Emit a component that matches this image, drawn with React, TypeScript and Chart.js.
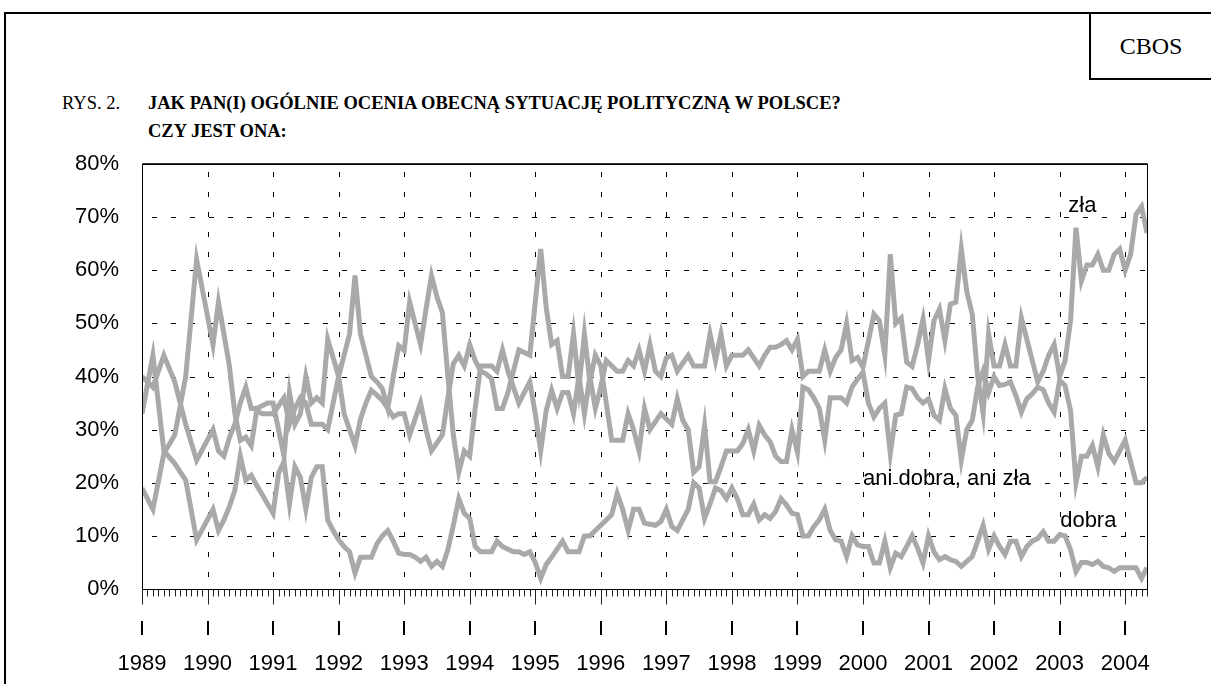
import React, { useEffect, useRef } from "react";
import { Chart, registerables } from "chart.js";

Chart.register(...registerables);

// Survey dates: months since January 1989 (0 = Jan 1989)
const surveyMonths = [
  0, 2, 4, 6, 8, 10,
  13, 14, 15, 16, 17, 18, 19, 20, 21, 22, 23,
  24, 25, 26, 27, 28, 29, 30, 31, 32, 33, 34, 35,
  36, 37, 38, 39, 40, 41, 42, 43, 44, 45, 46, 47,
  48, 49, 50, 51, 52, 53, 54, 55, 56, 57, 58, 59,
  60, 61, 62, 63, 64, 65, 66, 67, 68, 69, 70, 71,
  72, 73, 74, 75, 76, 77, 78, 79, 80, 81, 82, 83,
  84, 85, 86, 87, 88, 89, 90, 91, 92, 93, 94, 95,
  96, 97, 98, 99, 100, 101, 102, 103, 104, 105, 106, 107,
  108, 109, 110, 111, 112, 113, 114, 115, 116, 117, 118, 119,
  120, 121, 122, 123, 124, 125, 126, 127, 128, 129, 130, 131,
  132, 133, 134, 135, 136, 137, 138, 139, 140, 141, 142, 143,
  144, 145, 146, 147, 148, 149, 150, 151, 152, 153, 154, 155,
  156, 157, 158, 159, 160, 161, 162, 163, 164, 165, 166, 167,
  168, 169, 170, 171, 172, 173, 174, 175, 176, 177, 178, 179,
  180, 181, 182, 183, 184,
];

const zla = [
  40, 38, 44, 39, 31, 24.25,
  30, 26, 25, 28.5, 31, 35, 38, 34, 34, 34.5, 35,
  35, 30, 25, 37, 31, 33, 40, 35, 36, 35, 47, 43.5,
  40, 44, 48, 59, 48, 44, 40, 39, 37.7, 34, 40, 45.8,
  44.9, 54, 50, 46, 52.7, 59, 55, 52, 40, 29, 22, 26,
  25, 34, 42, 42, 42, 41, 45, 41, 38, 35, 37, 39,
  33, 26, 33.6, 37.4, 34, 37, 37, 33, 40, 33, 40, 34,
  38, 43, 42, 41, 41, 43, 42, 45, 41, 46, 41, 40,
  43.5, 44, 41, 42.5, 44, 42, 42, 42, 48, 43, 48, 42,
  44, 44, 44, 45, 43.5, 42, 44, 45.5, 45.5, 46, 46.75, 45,
  47, 40, 41, 41, 41, 45, 41, 43.6, 45, 50, 43, 43.6,
  41.75, 46.75, 51.75, 50.5, 44, 63, 50, 51, 42.7, 41.9, 46, 50.8,
  43, 50.5, 52.7, 46.75, 53.6, 54, 64, 56, 51.75, 40, 33, 48,
  42, 42, 46, 42, 42, 51, 47, 43, 39, 41, 44, 46,
  40, 43, 50.5, 68, 58, 61, 61, 63, 60, 60, 63, 64,
  60, 63, 70.5, 72, 67,
];

const aniDobraAniZla = [
  19, 15, 25.5, 29, 40, 62,
  46, 54, 48, 42, 33, 28, 28.6, 27, 33.6, 33, 33,
  33, 34.5, 36, 31, 34, 36, 35, 31, 31, 31, 30, 35,
  40, 33, 30, 27, 32, 35, 37.4, 36.5, 35.5, 34, 32.4, 33,
  33, 29, 32, 35, 30, 26, 27.5, 29, 36, 42.4, 44, 42,
  46, 43, 41, 40.5, 39.6, 34, 34, 37, 41, 45, 44.5, 44,
  54, 64, 53, 46, 46.75, 40, 40, 48, 38, 48, 39, 44,
  42, 35, 28, 28, 28, 33, 30, 26, 34, 30, 31.5, 33,
  32, 31, 35.8, 31.75, 30, 22, 23, 30.8, 20.2, 20.2, 23, 26,
  26, 26, 27.4, 30, 26, 30.8, 29, 27.7, 25, 24, 24, 30,
  25.8, 38, 37.5, 36, 34, 28, 36, 36, 36, 35, 38, 39.5,
  40.8, 35, 32.4, 34, 35, 25.5, 32.7, 33, 38, 37.7, 36, 35,
  35.8, 32.7, 31.75, 37.7, 34, 32.7, 24.25, 30, 31.75, 38, 41, 37,
  40, 38.3, 38.5, 39, 36.4, 33.3, 35.8, 36.75, 38, 37.5, 35, 33.3,
  39.25, 38.3, 33.6, 20, 25, 25, 27, 23, 29, 25.5, 24, 26,
  28, 24, 20, 20, 21,
];

const dobra = [
  33, 44, 26, 23.6, 20.5, 9.25,
  15, 11, 13, 15.5, 18.6, 25, 20.5, 21.4, 19.5, 17.8, 16,
  14.25, 21.75, 24, 16, 23, 21, 15, 21, 23, 23, 13, 11,
  9.25, 8, 7, 3, 6, 6, 6, 8.5, 10, 11, 9, 6.75,
  6.5, 6.5, 6, 5.2, 6, 4.25, 5.2, 4.25, 7.4, 12, 17, 14.25,
  13.3, 8, 7, 7, 7, 9, 8, 7.5, 7, 7, 6.5, 7,
  5, 2, 4.6, 6, 7.5, 9, 7, 7, 7, 10, 10, 11,
  12, 13, 14, 18, 15, 11, 15, 15, 12.4, 12.2, 12, 12.7,
  15, 11.75, 11, 13, 15, 20, 19, 13.3, 16, 19, 18.5, 17,
  19, 17, 14, 14, 16, 13, 14, 13.3, 14.6, 17, 15.8, 14.25,
  14, 10, 10, 11.75, 13, 15, 11, 9.25, 9, 6.1, 10, 8.3,
  8, 8, 4.9, 4.9, 9, 4, 6.75, 6.1, 8, 10, 7.7, 4.9,
  10, 7, 5.5, 6.1, 5.5, 5.2, 4.25, 5.2, 6.1, 9, 12, 7.5,
  10, 8, 6.5, 9, 9, 6.1, 8, 9, 9.5, 10.8, 9, 9,
  10.2, 10, 7.4, 3.3, 5, 5, 4.6, 5.2, 4.25, 4, 3.3, 4,
  4, 4, 4, 2, 4,
];

const yearLabels = [
  "1989", "1990", "1991", "1992", "1993", "1994", "1995", "1996",
  "1997", "1998", "1999", "2000", "2001", "2002", "2003", "2004",
];
const yTickValues = [0, 10, 20, 30, 40, 50, 60, 70, 80];

const seriesLabels = ["zła", "ani dobra, ani zła", "dobra"];
// label anchor (month, percent) for each series, left-aligned
const labelAnchors = [
  { m: 169.6, v: 72.1 },
  { m: 132.0, v: 20.7 },
  { m: 168.1, v: 12.8 },
];

const LINE_COLOR = "#a9a9a9";
const SANS = '"Liberation Sans", Arial, sans-serif';
const SERIF = '"Liberation Serif", "Times New Roman", serif';

export default function App() {
  const canvasRef = useRef<HTMLCanvasElement | null>(null);

  useEffect(() => {
    const canvas = canvasRef.current;
    if (!canvas) return;

    const toPoints = (vals: number[]) =>
      surveyMonths.map((m, i) => ({ x: m, y: vals[i] }));

    const decor = {
      id: "decor",
      beforeDatasetsDraw(chart: any) {
        const { ctx, chartArea: a, scales } = chart;
        const xs = scales.x;
        const ys = scales.y;
        ctx.save();
        ctx.strokeStyle = "#000";
        ctx.lineWidth = 1;
        // horizontal dashed gridlines
        ctx.setLineDash([5, 14]);
        ctx.lineDashOffset = 9;
        yTickValues.forEach((v) => {
          if (v === 0 || v === 80) return;
          const y = Math.round(ys.getPixelForValue(v)) + 0.5;
          ctx.beginPath();
          ctx.moveTo(a.left, y);
          ctx.lineTo(a.right, y);
          ctx.stroke();
        });
        // vertical dashed gridlines at years
        ctx.setLineDash([5, 15]);
        ctx.lineDashOffset = 12;
        yearLabels.forEach((_, i) => {
          if (i === 0) return;
          const x = Math.round(xs.getPixelForValue(i * 12)) + 0.5;
          ctx.beginPath();
          ctx.moveTo(x, a.top);
          ctx.lineTo(x, a.bottom);
          ctx.stroke();
        });
        ctx.restore();
      },
      afterDatasetsDraw(chart: any) {
        const { ctx, chartArea: a, scales } = chart;
        const xs = scales.x;
        const ys = scales.y;
        ctx.save();
        ctx.setLineDash([]);
        ctx.strokeStyle = "#000";
        ctx.lineWidth = 1;
        // plot frame
        const L = Math.round(a.left) + 0.5;
        const R = Math.round(a.right) + 0.5;
        const T = Math.round(a.top) + 0.5;
        const B = Math.round(a.bottom) + 0.5;
        ctx.strokeRect(L, T, R - L, B - T);
        ctx.strokeStyle = "#333";
        ctx.beginPath();
        ctx.moveTo(L, T - 1);
        ctx.lineTo(R, T - 1);
        ctx.stroke();
        // month minor ticks and year major ticks
        ctx.strokeStyle = "#222";
        for (let m = 0; m <= 184; m++) {
          const x = Math.round(xs.getPixelForValue(m)) + 0.5;
          const len = m % 12 === 0 ? 15 : 7;
          ctx.beginPath();
          ctx.moveTo(x, B);
          ctx.lineTo(x, B + len);
          ctx.stroke();
        }
        // y labels
        ctx.fillStyle = "#000";
        ctx.font = `22px ${SANS}`;
        ctx.textAlign = "right";
        ctx.textBaseline = "middle";
        yTickValues.forEach((v) => {
          ctx.fillText(`${v}%`, 119, ys.getPixelForValue(v));
        });
        // year marks and labels
        ctx.textAlign = "center";
        ctx.lineWidth = 2;
        ctx.strokeStyle = "#000";
        yearLabels.forEach((lab, i) => {
          const xp = xs.getPixelForValue(i * 12);
          const x = Math.round(xp);
          ctx.beginPath();
          ctx.moveTo(x, 621);
          ctx.lineTo(x, 635);
          ctx.stroke();
          ctx.fillText(lab, xp, 664);
        });
        // series labels
        ctx.textAlign = "left";
        seriesLabels.forEach((t, i) => {
          const p = labelAnchors[i];
          ctx.fillText(t, xs.getPixelForValue(p.m), ys.getPixelForValue(p.v));
        });
        ctx.restore();
      },
    };

    const mk = (label: string, vals: number[]) => ({
      label,
      data: toPoints(vals),
      borderColor: LINE_COLOR,
      backgroundColor: LINE_COLOR,
      borderWidth: 5,
      pointRadius: 0,
      tension: 0,
      borderJoinStyle: "miter" as const,
      borderCapStyle: "butt" as const,
      fill: false,
    });

    const chart = new Chart(canvas, {
      type: "line",
      data: {
        datasets: [
          mk(seriesLabels[0], zla),
          mk(seriesLabels[1], aniDobraAniZla),
          mk(seriesLabels[2], dobra),
        ],
      },
      options: {
        animation: false,
        responsive: false,
        events: [],
        layout: {
          autoPadding: false,
          padding: { left: 142, top: 164, right: 64, bottom: 95 },
        },
        plugins: {
          legend: { display: false },
          tooltip: { enabled: false },
          title: { display: false },
        },
        scales: {
          x: { type: "linear", min: 0, max: 184, display: false },
          y: { type: "linear", min: 0, max: 80, display: false },
        },
      },
      plugins: [decor],
    });
    return () => chart.destroy();
  }, []);

  return (
    <div
      style={{
        position: "absolute",
        left: 0,
        top: 0,
        width: 1211,
        height: 684,
        background: "#fff",
        overflow: "hidden",
      }}
    >
      {/* outer frame */}
      <div
        style={{
          position: "absolute",
          left: 4,
          top: 12,
          width: 1220,
          height: 700,
          borderTop: "2px solid #000",
          borderLeft: "2px solid #000",
        }}
      />
      {/* CBOS box */}
      <div
        style={{
          position: "absolute",
          left: 1089,
          top: 12,
          width: 140,
          height: 66,
          borderLeft: "2px solid #000",
          borderBottom: "2px solid #000",
        }}
      />
      <div
        style={{
          position: "absolute",
          left: 1091,
          top: 14,
          width: 120,
          height: 64,
          display: "flex",
          alignItems: "center",
          justifyContent: "center",
          fontFamily: SERIF,
          fontSize: 24,
          color: "#000",
        }}
      >
        CBOS
      </div>
      {/* title */}
      <div
        style={{
          position: "absolute",
          left: 62,
          top: 89,
          fontFamily: SERIF,
          fontSize: 18.5,
          lineHeight: "28px",
          color: "#000",
          whiteSpace: "nowrap",
        }}
      >
        <span style={{ display: "inline-block", width: 86 }}>RYS. 2.</span>
        <b>JAK PAN(I) OGÓLNIE OCENIA OBECNĄ SYTUACJĘ POLITYCZNĄ W POLSCE?</b>
        <br />
        <span style={{ display: "inline-block", width: 86 }}></span>
        <b>CZY JEST ONA:</b>
      </div>
      <canvas
        ref={canvasRef}
        width={1211}
        height={684}
        style={{ position: "absolute", left: 0, top: 0 }}
      />
    </div>
  );
}
